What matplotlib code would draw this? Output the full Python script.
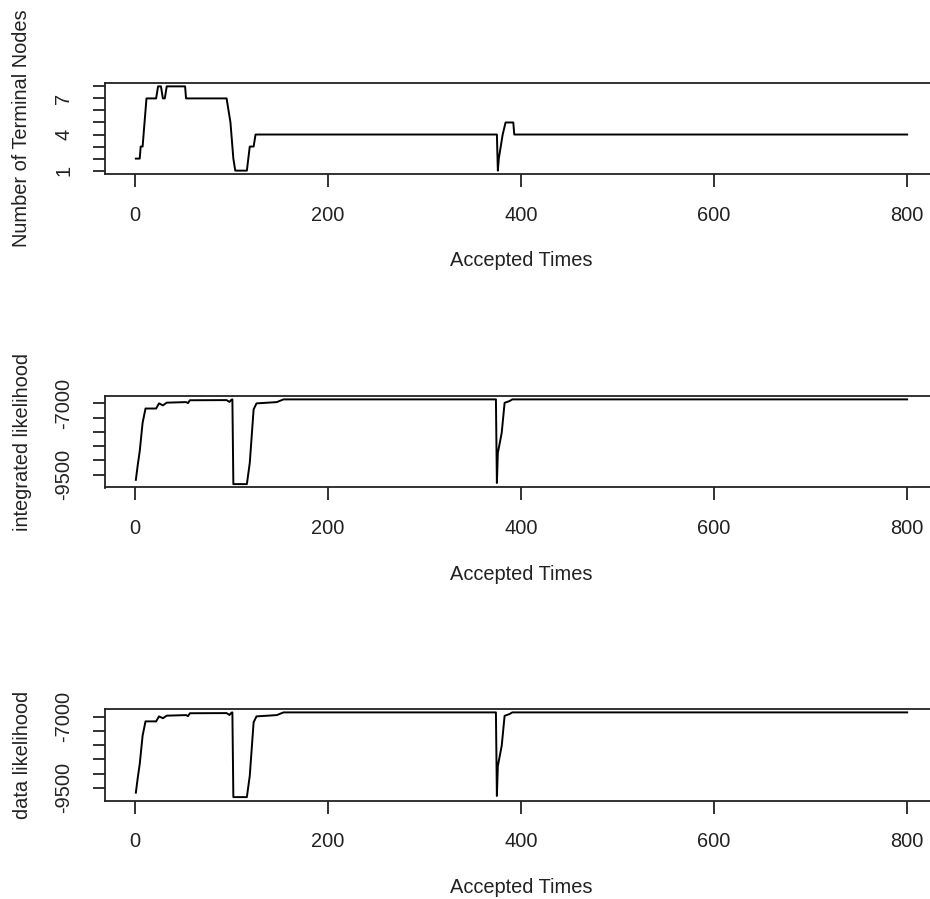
import numpy as np
import matplotlib
matplotlib.use('Agg')
import matplotlib.pyplot as plt

plt.rcParams['font.family'] = ['Liberation Sans', 'DejaVu Sans']

# Number of terminal nodes (keypoints of the trace)
nodes_x = [1, 5, 6, 8, 12, 22, 24, 27, 29, 31, 33, 52, 53, 95, 97, 99, 100, 101, 102, 104,
           116, 119, 123, 125, 375, 376, 377, 381, 384, 392, 393, 800]
nodes_y = [2, 2, 3, 3, 7, 7, 8, 8, 7, 7, 8, 8, 7, 7, 6, 5, 4, 3, 2, 1,
           1, 3, 3, 4, 4, 1, 2, 4, 5, 5, 4, 4]

# integrated likelihood
int_x = [1, 3, 5, 8, 11, 22, 25, 29, 33, 53, 55, 57, 95, 98, 100, 101, 102, 116,
         119, 123, 126, 147, 154, 374, 375, 376, 380, 383, 388, 391, 800]
int_y = [-9680, -9150, -8680, -7680, -7180, -7180, -7000, -7070, -6975, -6955, -6990, -6890,
         -6885, -6950, -6870, -6860, -9830, -9830, -9090, -7210, -7000, -6955, -6860,
         -6860, -9790, -8740, -8030, -6980, -6920, -6860, -6860]

# data likelihood
dat_x = [1, 3, 5, 8, 11, 22, 25, 29, 33, 53, 55, 57, 95, 98, 100, 101, 102, 116,
         119, 123, 126, 147, 154, 374, 375, 376, 380, 383, 388, 391, 800]
dat_y = [-9670, -9140, -8670, -7670, -7170, -7170, -6995, -7060, -6970, -6950, -6985, -6885,
         -6880, -6945, -6865, -6855, -9825, -9825, -9080, -7200, -6995, -6950, -6855,
         -6855, -9785, -8735, -8025, -6975, -6915, -6855, -6855]

panels = [
    (nodes_x, nodes_y, 'Number of Terminal Nodes', list(range(1, 9)), {1: '1', 4: '4', 7: '7'}, 83, 174),
    (int_x, int_y, 'integrated likelihood', list(range(-9500, -6999, 500)), {-9500: '-9500', -7000: '-7000'}, 396, 487.5),
    (dat_x, dat_y, 'data likelihood', list(range(-9500, -6999, 500)), {-9500: '-9500', -7000: '-7000'}, 709, 800.5),
]

W, H = 930, 899
fig = plt.figure(figsize=(W / 100, H / 100), dpi=100)
fs = 14.4
txt = '#222222'

for xs, ys, title, yticks, ylabs, top, bot in panels:
    left, right = 105, 938
    ax = fig.add_axes([left / W, 1 - bot / H, (right - left) / W, (bot - top) / H])
    ax.plot(xs, ys, color='black', lw=1.4)
    # R style 4% padding of the data range
    x0, x1 = min(xs), max(xs)
    y0, y1 = min(ys), max(ys)
    ax.set_xlim(x0 - 0.04 * (x1 - x0), x1 + 0.04 * (x1 - x0))
    ax.set_ylim(y0 - 0.04 * (y1 - y0), y1 + 0.04 * (y1 - y0))
    ax.set_xticks([0, 200, 400, 600, 800])
    ax.set_yticks(yticks)
    ax.set_yticklabels([ylabs.get(t, '') for t in yticks])
    for s in ax.spines.values():
        s.set_linewidth(1.3)
        s.set_color('#222222')
    ax.tick_params(axis='both', direction='out', length=9, width=1.3, color='#222222',
                   labelsize=fs, labelcolor=txt)
    ax.tick_params(axis='x', pad=14)
    ax.tick_params(axis='y', pad=14, labelrotation=90)
    for lab in ax.get_yticklabels():
        lab.set_va('center')
    fig.text(22 / W, 1 - (top + bot) / 2 / H, title, rotation=90, ha='center', va='center',
             fontsize=fs, color=txt)
    fig.text(521 / W, 1 - (bot + 87) / H, 'Accepted Times', ha='center', va='center',
             fontsize=fs, color=txt)

fig.savefig('out.png', dpi=100)
